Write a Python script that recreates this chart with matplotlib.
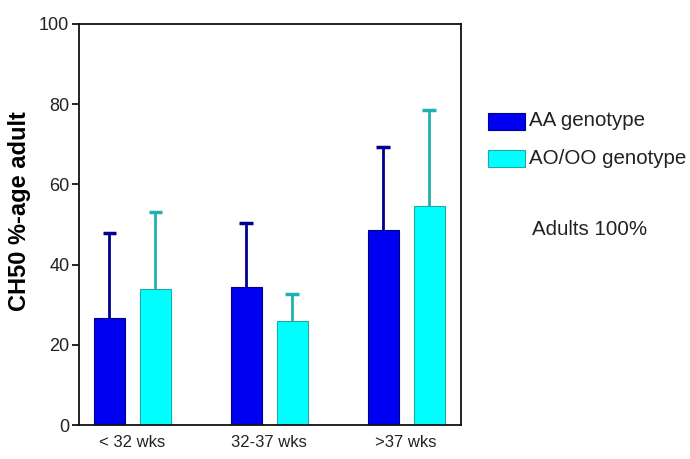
import matplotlib
matplotlib.use("Agg")
import matplotlib.pyplot as plt
import numpy as np
from matplotlib.patches import Rectangle

categories = ["< 32 wks", "32-37 wks", ">37 wks"]
aa_means = [26.8, 34.5, 48.7]
aa_err = [21.2, 15.9, 20.7]
ao_means = [33.9, 25.9, 54.7]
ao_err = [19.3, 6.7, 23.8]
series_labels = ["AA genotype", "AO/OO genotype"]
y_ticks = [0, 20, 40, 60, 80, 100]

plt.rcParams['font.family'] = ['Liberation Sans', 'DejaVu Sans']

fig = plt.figure(figsize=(6.9, 4.59), dpi=100)
ax = fig.add_axes([79/690, 1-425/459, 382/690, 401/459])

x = np.arange(len(categories))
w = 0.226
off = 0.168
aa_face, aa_edge, aa_ecol = "#0000F0", "#00008A", "#000090"
ao_face, ao_edge, ao_ecol = "#00FFFF", "#20A8A8", "#20B0B0"

ax.bar(x - off, aa_means, w, color=aa_face, edgecolor=aa_edge, linewidth=0.8, zorder=2)
ax.bar(x + off, ao_means, w, color=ao_face, edgecolor=ao_edge, linewidth=0.8, zorder=2)

cap = 0.05
for xs, m, e, c in [(x - off, aa_means, aa_err, aa_ecol), (x + off, ao_means, ao_err, ao_ecol)]:
    tops = np.array(m) + np.array(e)
    ax.vlines(xs, m, tops, colors=c, linewidth=2, zorder=1)
    ax.hlines(tops, xs - cap, xs + cap, colors=c, linewidth=2.5, zorder=1)

ax.set_xlim(-0.39, 2.4)
ax.set_ylim(0, 100)
ax.set_yticks(y_ticks)
ax.set_yticklabels([str(t) for t in y_ticks], fontsize=13, color="#222222")
ax.set_xticks(x)
ax.set_xticklabels(categories, fontsize=12, color="#222222")
ax.tick_params(axis='x', length=0, pad=7)
ax.tick_params(axis='y', length=5, width=1.2, pad=2)
for s in ax.spines.values():
    s.set_linewidth(1.3)
    s.set_color("#111111")
ax.set_ylabel("CH50 %-age adult", fontsize=17, fontweight='bold')
ax.yaxis.set_label_coords(-0.125, 0.534)

# legend
fig.patches.append(Rectangle((488/690, 1-130/459), 37/690, 17/459, transform=fig.transFigure,
                             facecolor=aa_face, edgecolor=aa_edge, linewidth=0.8))
fig.patches.append(Rectangle((488/690, 1-167/459), 37/690, 17/459, transform=fig.transFigure,
                             facecolor=ao_face, edgecolor=ao_edge, linewidth=0.8))
fig.text(529/690, 1-121/459, series_labels[0], fontsize=14.8, va='center', ha='left', color="#222222")
fig.text(529/690, 1-158/459, series_labels[1], fontsize=14.8, va='center', ha='left', color="#222222")
fig.text(532/690, 1-230/459, "Adults 100%", fontsize=14.8, va='center', ha='left', color="#222222")

fig.savefig("out.png", dpi=100)
